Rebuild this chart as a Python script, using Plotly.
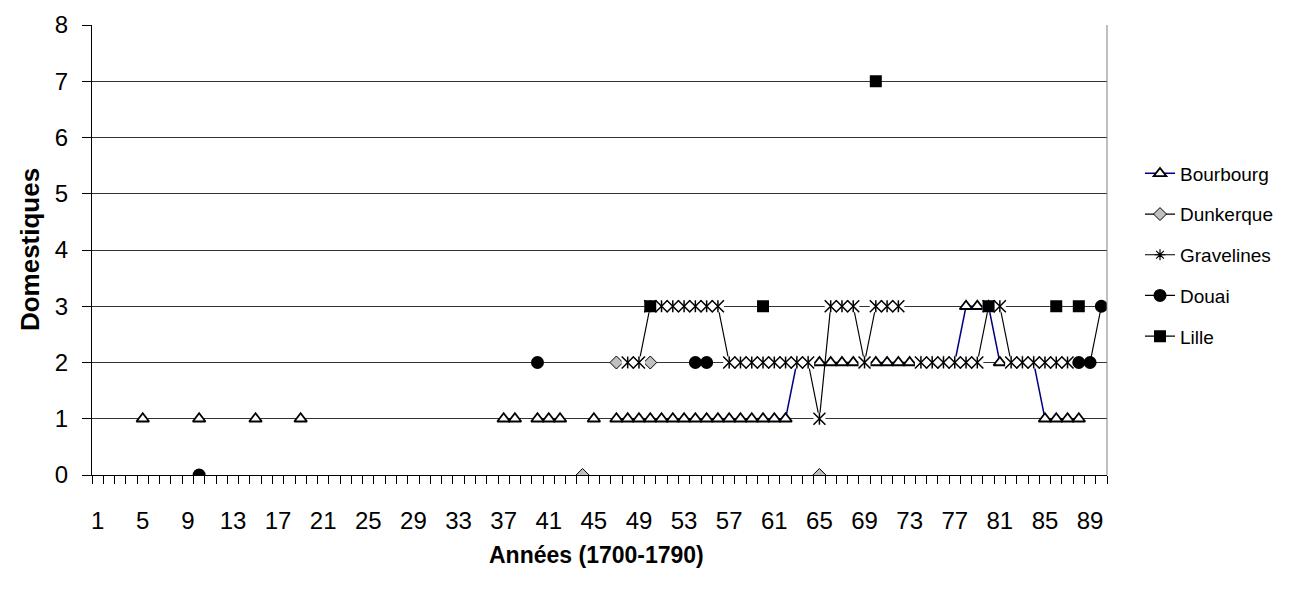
import plotly.graph_objects as go

# category axis: years 1..90 of the century (1700-1790)
years = list(range(1, 91))
tick_labels = [1, 5, 9, 13, 17, 21, 25, 29, 33, 37, 41, 45, 49, 53, 57, 61, 65, 69, 73, 77, 81, 85, 89]

bourbourg_years = [5, 10, 15, 19, 37, 38, 40, 41, 42, 45,
                   47, 48, 49, 50, 51, 52, 53, 54, 55, 56, 57, 58, 59, 60, 61, 62,
                   63, 64, 65, 66, 67, 68, 69, 70, 71, 72, 73, 74, 75, 76, 77,
                   78, 79, 80, 81, 82, 83, 84, 85, 86, 87, 88]
bourbourg_vals = [1, 1, 1, 1, 1, 1, 1, 1, 1, 1,
                  1, 1, 1, 1, 1, 1, 1, 1, 1, 1, 1, 1, 1, 1, 1, 1,
                  2, 2, 2, 2, 2, 2, 2, 2, 2, 2, 2, 2, 2, 2, 2,
                  3, 3, 3, 2, 2, 2, 2, 1, 1, 1, 1]

dunkerque_years = [44, 47, 50, 65]
dunkerque_vals = [0, 2, 2, 0]

gravelines_years = [48, 49, 50, 51, 52, 53, 54, 55, 56, 57, 58, 59, 60, 61, 62, 63, 64,
                    65, 66, 67, 68, 69, 70, 71, 72, 74, 75, 76, 77, 78, 79,
                    80, 81, 82, 83, 84, 85, 86, 87]
gravelines_vals = [2, 2, 3, 3, 3, 3, 3, 3, 3, 2, 2, 2, 2, 2, 2, 2, 2,
                   1, 3, 3, 3, 2, 3, 3, 3, 2, 2, 2, 2, 2, 2,
                   3, 3, 2, 2, 2, 2, 2, 2]

douai_years = [10, 40, 54, 55, 88, 89, 90]
douai_vals = [0, 2, 2, 2, 2, 2, 3]

lille_years = [50, 60, 70, 80, 86, 88]
lille_vals = [3, 3, 7, 3, 3, 3]

FONT = "Liberation Sans, Arial, sans-serif"


def full_series(yrs, vals):
    # spread the sparse values over every year, None = no data (gap in the line)
    lookup = dict(zip(yrs, vals))
    return [lookup.get(y) for y in years]


fig = go.Figure()

fig.add_trace(go.Scatter(
    x=years, y=full_series(bourbourg_years, bourbourg_vals), name="Bourbourg",
    mode="lines+markers", legendgroup="a",
    line=dict(color="#000080", width=1.5),
    marker=dict(symbol="triangle-up", size=11, color="white",
                line=dict(color="black", width=1.8)),
))
fig.add_trace(go.Scatter(
    x=years, y=full_series(dunkerque_years, dunkerque_vals), name="Dunkerque",
    mode="lines+markers", legendgroup="b",
    line=dict(color="black", width=1.2),
    marker=dict(symbol="diamond", size=10, color="#c0c0c0",
                line=dict(color="black", width=1)),
))

# Gravelines: star marker drawn in layers like Excel (line, white backing, then the star)
grav = full_series(gravelines_years, gravelines_vals)
fig.add_trace(go.Scatter(
    x=years, y=grav, mode="lines", showlegend=False, legendgroup="c",
    line=dict(color="black", width=1.2),
))
fig.add_trace(go.Scatter(
    x=years, y=grav, mode="markers", showlegend=False, legendgroup="c",
    marker=dict(symbol="square", size=12, color="white"),
))
fig.add_trace(go.Scatter(
    x=years, y=grav, mode="markers", showlegend=False, legendgroup="c",
    marker=dict(symbol="x-thin-open", size=12, color="black",
                line=dict(color="black", width=1.5)),
))
fig.add_trace(go.Scatter(
    x=years, y=grav, mode="markers", showlegend=False, legendgroup="c",
    marker=dict(symbol="line-ns-open", size=8.5, color="black",
                line=dict(color="black", width=1.5)),
))
# legend entry only
fig.add_trace(go.Scatter(
    x=[None], y=[None], name="Gravelines", mode="lines+markers", legendgroup="c",
    line=dict(color="black", width=1.2),
    marker=dict(symbol="asterisk-open", size=9, color="black",
                line=dict(color="black", width=1.2)),
))

fig.add_trace(go.Scatter(
    x=years, y=full_series(douai_years, douai_vals), name="Douai",
    mode="lines+markers", legendgroup="d",
    line=dict(color="black", width=1.2),
    marker=dict(symbol="circle", size=13, color="black"),
))
fig.add_trace(go.Scatter(
    x=years, y=full_series(lille_years, lille_vals), name="Lille",
    mode="lines+markers", legendgroup="e",
    line=dict(color="black", width=1.2),
    marker=dict(symbol="square", size=12, color="black"),
))

# the page body has an 8px margin, so the figure is 8px smaller and the plot
# area is placed to land at 92..1107 x 25..475 in the window
fig.update_layout(
    width=1282, height=582,
    margin=dict(l=84, r=183, t=17, b=115),
    plot_bgcolor="white", paper_bgcolor="white",
    font=dict(family=FONT, size=24, color="black"),
    showlegend=True,
    legend=dict(xref="container", yref="container",
                x=0.883, xanchor="left", y=0.5756, yanchor="middle",
                font=dict(size=19), tracegroupgap=13, bgcolor="rgba(0,0,0,0)"),
)

fig.update_xaxes(
    range=[0.5, 90.5], tickmode="array", tickvals=tick_labels,
    ticks="", ticklabelstandoff=24, showgrid=False, zeroline=False,
    showline=True, linecolor="black", linewidth=1, automargin=False,
    minor=dict(tickmode="linear", tick0=0.5, dtick=1, ticks="outside",
               ticklen=8, tickcolor="black", tickwidth=1, showgrid=False),
)
fig.update_yaxes(
    range=[0, 8], dtick=1, ticks="outside", ticklen=9, tickcolor="black",
    ticklabelstandoff=9, showgrid=True, gridcolor="#333333", gridwidth=1,
    zeroline=False, showline=True, linecolor="black", linewidth=1, automargin=False,
)

# light grey right border of the plot area
fig.add_shape(type="line", xref="paper", yref="paper", x0=1, x1=1, y0=0, y1=1,
              line=dict(color="#808080", width=1))

fig.add_annotation(text="<b>Domestiques</b>", xref="paper", yref="paper",
                   x=-0.061, xanchor="center", y=0.5, yanchor="middle",
                   textangle=-90, showarrow=False, font=dict(size=26))
fig.add_annotation(text="<b>Années (1700-1790)</b>", xref="paper", yref="paper",
                   x=0.497, xanchor="center", y=-0.178, yanchor="middle",
                   showarrow=False, font=dict(size=23))

fig.write_html("out.html")
